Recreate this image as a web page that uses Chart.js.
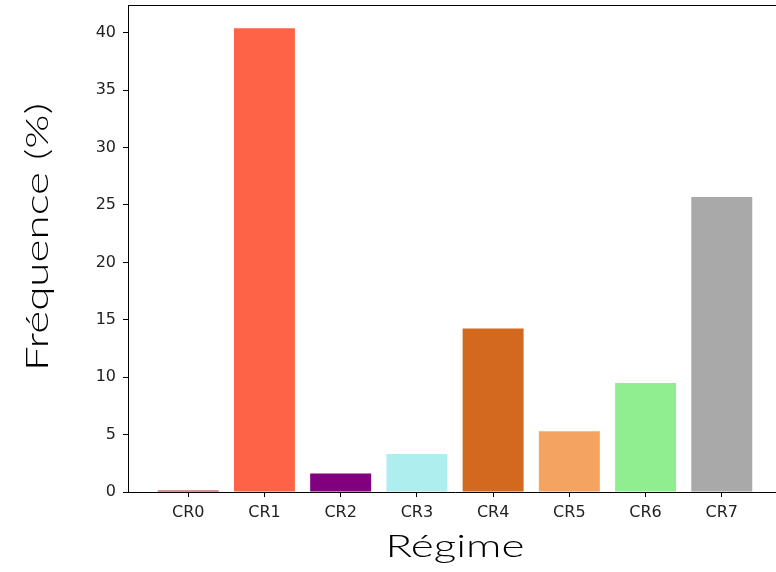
<!DOCTYPE html>
<html>
<head>
<meta charset="utf-8">
<script src="https://cdn.jsdelivr.net/npm/chart.js@4/dist/chart.umd.min.js"></script>
<style>
  html, body { margin: 0; padding: 0; background: #fff; overflow: hidden; }
  #wrap { width: 790px; height: 572px; }
</style>
</head>
<body>
<div id="wrap"><canvas id="c" width="790" height="572"></canvas></div>
<script>
// Regime categories and their frequency (%)
const categories = ['CR0', 'CR1', 'CR2', 'CR3', 'CR4', 'CR5', 'CR6', 'CR7'];
const frequencies = [0.13, 40.4, 1.62, 3.3, 14.25, 5.3, 9.5, 25.7];
const barColors = ['#a52a2a', '#ff6347', '#800080', '#afeeee', '#d2691e', '#f4a460', '#90ee90', '#a9a9a9'];
const yTicks = [0, 5, 10, 15, 20, 25, 30, 35, 40];
const xTitle = 'Régime';
const yTitle = 'Fréquence (%)';

const titleFont = '300 31px Lato';
const titleStretch = 1.42;   // wide geometric look for the axis titles
const tickFont = { family: 'DejaVu Sans', size: 16 };

// Draws a horizontally stretched label centred on (x, y), optionally rotated
function stretchedText(ctx, text, x, y, angle) {
  ctx.save();
  ctx.translate(x, y);
  ctx.rotate(angle);
  ctx.scale(titleStretch, 1);
  ctx.fillStyle = '#000';
  ctx.font = titleFont;
  ctx.textAlign = 'center';
  ctx.textBaseline = 'middle';
  ctx.fillText(text, 0, 0);
  ctx.restore();
}

// Closed frame around the plot area plus both axis titles
const framePlugin = {
  id: 'frame',
  afterDraw(chart) {
    const { ctx, chartArea: a } = chart;
    ctx.save();
    ctx.strokeStyle = '#000';
    ctx.lineWidth = 1;
    ctx.beginPath();
    ctx.moveTo(a.left, a.top + 0.5);
    ctx.lineTo(a.right, a.top + 0.5);
    ctx.lineTo(a.right, a.bottom);
    ctx.stroke();
    ctx.restore();
    stretchedText(ctx, xTitle, (a.left + a.right) / 2, 547, 0);
    stretchedText(ctx, yTitle, 38, 237, -Math.PI / 2);
  }
};

new Chart(document.getElementById('c'), {
  type: 'bar',
  data: {
    datasets: [{
      data: frequencies.map((v, i) => ({ x: i, y: v })),
      backgroundColor: barColors,
      borderWidth: 0,
      barPercentage: 0.8,
      categoryPercentage: 1.0
    }]
  },
  options: {
    responsive: false,
    animation: false,
    devicePixelRatio: 1,
    layout: { padding: { left: 0, top: 5, right: 8, bottom: 0 } },
    plugins: { legend: { display: false }, tooltip: { enabled: false } },
    scales: {
      x: {
        type: 'linear',
        min: -0.79,
        max: 7.79,
        offset: false,
        afterBuildTicks(scale) { scale.ticks = categories.map((_, i) => ({ value: i })); },
        afterFit(scale) { scale.height = 80; scale.paddingLeft = 0; scale.paddingRight = 0; },
        ticks: {
          autoSkip: false,
          maxRotation: 0,
          padding: 6,
          color: '#222',
          font: tickFont,
          callback: (v) => categories[v]
        },
        grid: { offset: false, drawOnChartArea: false, drawTicks: true, tickLength: 5, tickColor: '#000', tickWidth: 1 },
        border: { display: true, color: '#000', width: 1 }
      },
      y: {
        min: 0,
        max: 42.42,
        afterBuildTicks(scale) { scale.ticks = yTicks.map(v => ({ value: v })); },
        afterFit(scale) { scale.width = 128; scale.paddingTop = 0; scale.paddingBottom = 0; },
        ticks: { padding: 7, color: '#222', font: tickFont },
        grid: { drawOnChartArea: false, drawTicks: true, tickLength: 5, tickColor: '#000', tickWidth: 1 },
        border: { display: true, color: '#000', width: 1 }
      }
    }
  },
  plugins: [framePlugin]
});
</script>
</body>
</html>
